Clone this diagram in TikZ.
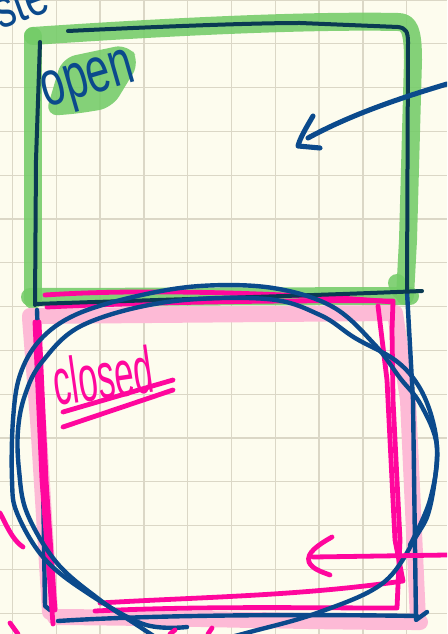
\documentclass[tikz,border=0pt]{standalone}
\usepackage{fontspec}
\setmainfont{Liberation Sans}
\definecolor{bgc}{HTML}{FDFCEE}
\definecolor{gridc}{HTML}{DBD7C6}
\definecolor{greenc}{HTML}{74CC68}
\definecolor{navyc}{HTML}{0A3A52}
\definecolor{bluec}{HTML}{0B4A8C}
\definecolor{magc}{HTML}{FF079D}
\definecolor{pinkc}{HTML}{FDBAD6}
\begin{document}
\begin{tikzpicture}[x=0.75pt,y=-0.75pt,
  navy/.style={draw=navyc,line width=3pt,line cap=round,line join=round},
  bluepen/.style={draw=bluec,line width=3.3pt,line cap=round,line join=round},
  magpen/.style={draw=magc,line width=3.6pt,line cap=round,line join=round},
  greenhl/.style={draw=greenc,line width=13.5pt,line cap=round,line join=round,opacity=0.88},
  pinkhl/.style={draw=pinkc,line width=12pt,line cap=round,line join=round},
  gridline/.style={draw=gridc,line width=1pt},
  hand/.style={inner sep=0pt,anchor=base}]
\fill[bgc] (0,0) rectangle (447,634);
\useasboundingbox (0,0) rectangle (447,634);
\begin{scope}
\clip (0,0) rectangle (447,634);
% grid
\foreach \k in {0,...,9} \draw[gridline] ({12.5+43.8*\k},0) -- ({12.5+43.8*\k},634);
\foreach \k in {0,...,14} \draw[gridline] (0,{43.8*\k}) -- (447,{43.8*\k});
% green highlight
\draw[greenhl] (33,300) -- (33,36);
\draw[greenhl] (33,36) .. controls (150,28) and (300,20) .. (398,22) .. controls (409,22) and (413,30) .. (413,60) -- (408,240) -- (405,296);
\draw[greenhl] (30,297) -- (410,296);
\draw[greenhl] (397,283) -- (400,290);
\fill[greenc,opacity=0.88,rounded corners=10pt] (45,116) -- (62,58) -- (128,44) -- (140,62) -- (112,108) -- (75,114) -- cycle;
% pink highlight
\draw[pinkhl] (30,318) -- (38,420) -- (50,612);
\draw[pinkhl] (30,316) -- (395,313) -- (408,400) -- (418,620);
\draw[pinkhl] (55,617) .. controls (200,618) and (300,622) .. (420,622);
% dark frame (open)
\draw[navy] (40,42) -- (36,160) -- (35,305);
\draw[navy] (68,31) .. controls (150,27) and (250,23) .. (300,23) -- (398,27) .. controls (406,28) and (408,32) .. (408,42) -- (407,292);
% blue frame (closed)
\draw[bluepen] (37,310) -- (43,480) -- (45,606) -- (50,610);
\draw[bluepen] (58,621) .. controls (150,615) and (300,614) .. (417,616);
\draw[bluepen] (407,292) -- (413,400) -- (416,620) -- (427,612);
% magenta frame
\draw[magpen] (45,295) .. controls (150,288) and (300,294) .. (393,302) -- (392,330) -- (393,400) -- (400,540) -- (397,608) .. controls (300,608) and (200,606) .. (95,611);
\draw[magpen] (47,307) .. controls (150,302) and (300,300) .. (393,301);
\draw[magpen] (378,306) -- (387,380) -- (395,540) -- (403,581) .. controls (300,596) and (200,597) .. (100,603);
\draw[magpen] (35,322) -- (42,480) -- (53,624);
\draw[magpen] (39,322) -- (46,480) -- (55,610);
\draw[navy] (35,304) .. controls (150,300) and (300,296) .. (422,291);
% blue loops
\draw[bluepen] plot[smooth,tension=0.6] coordinates {(410,545) (430,500) (437,447) (421,405) (400,378) (375,345) (333,307) (273,288) (200,286) (133,297) (75,315) (40,340) (20,375) (13,420) (12,480) (17,513) (43,557) (83,590) (143,624) (187,627)};
\draw[bluepen] plot[smooth,tension=0.6] coordinates {(175,650) (140,627) (100,600) (57,563) (27,513) (19,470) (18,430) (25,395) (42,362) (83,325) (167,302) (267,299) (320,315) (355,338) (395,360) (418,385) (432,418) (437,455) (430,507) (417,535) (383,583) (317,613) (250,632) (200,645)};
% arrows
\draw[bluepen,line width=3.8pt] (447,84) .. controls (400,98) and (350,115) .. (308,138);
\draw[bluepen,line width=3.8pt] (313,116) .. controls (306,128) and (300,138) .. (298,146) -- (320,148);
\draw[magpen] (447,555) -- (380,556) -- (313,557);
\draw[magpen] (332,537) .. controls (318,545) and (306,553) .. (309,562) .. controls (312,569) and (322,572) .. (330,575);
% stray marks
\draw[magpen] (0,513) .. controls (5,522) and (12,540) .. (23,547);
\draw[magpen] (10,623) -- (18,634);
\draw[magpen] (170,634) -- (175,630);
\draw[magpen] (208,634) -- (212,628);
% texts
\node[hand,text=bluec,font=\fontsize{31}{31}\selectfont,rotate=20,yscale=1.3] (ste) at (26,20) {ste};
\node[hand,text=bluec,font=\fontsize{32}{32}\selectfont,rotate=16,yscale=1.5] (open) at (92,94) {open};
\node[hand,text=magc,font=\fontsize{26}{26}\selectfont,rotate=8,yscale=1.9] (closed) at (106,399) {closed};
\draw[magpen] (63,412) -- (173,380);
\draw[magpen] (63,427) -- (173,390);
\end{scope}
\end{tikzpicture}
\end{document}
